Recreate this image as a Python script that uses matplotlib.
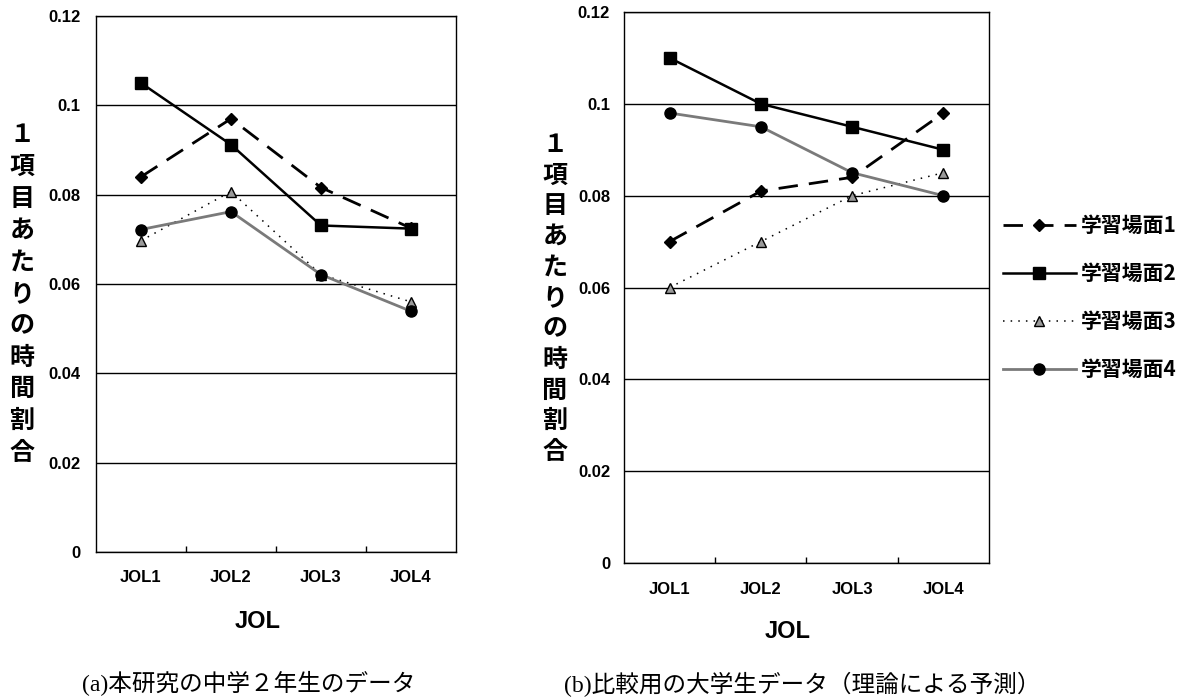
import matplotlib
matplotlib.use('Agg')
import matplotlib.pyplot as plt
import numpy as np

jol = ['JOL1', 'JOL2', 'JOL3', 'JOL4']
series_names = ['学習場面1', '学習場面2', '学習場面3', '学習場面4']
ytick_vals = [0, 0.02, 0.04, 0.06, 0.08, 0.1, 0.12]
ytick_labels = ['0', '0.02', '0.04', '0.06', '0.08', '0.1', '0.12']

# (a) middle school data
a1 = [0.084, 0.097, 0.0816, 0.0725]
a2 = [0.105, 0.0912, 0.0731, 0.0724]
a3 = [0.0697, 0.0807, 0.0621, 0.0560]
a4 = [0.0722, 0.0762, 0.0621, 0.0539]
# (b) university students (theory)
b1 = [0.070, 0.081, 0.084, 0.098]
b2 = [0.110, 0.100, 0.095, 0.090]
b3 = [0.060, 0.070, 0.080, 0.085]
b4 = [0.098, 0.095, 0.085, 0.080]

ylabel_text = '１項目あたりの時間割合'
caption_a = '(a)本研究の中学２年生のデータ'
caption_b = '(b)比較用の大学生データ（理論による予測）'

sans = ['Liberation Sans', 'Noto Sans CJK JP']
cjk = ['Noto Sans CJK JP', 'DejaVu Sans']
serif = ['Liberation Serif', 'Noto Sans CJK JP']

styles = [
    dict(color='black', lw=2.0, linestyle=(0, (7, 4)), marker='D', ms=6,
         mfc='black', mec='black'),
    dict(color='black', lw=1.8, linestyle='-', marker='s', ms=8.5,
         mfc='black', mec='black'),
    dict(color='black', lw=1.1, linestyle=(0, (1, 4)), marker='^', ms=7,
         mfc='#9a9a9a', mec='black', mew=1.0),
    dict(color='#7a7a7a', lw=2.0, linestyle='-', marker='o', ms=8,
         mfc='black', mec='black'),
]

W, H = 1184, 697
fig = plt.figure(figsize=(W / 100, H / 100), dpi=100)


def px_axes(x0, x1, y0, y1):
    return fig.add_axes([x0 / W, 1 - y1 / H, (x1 - x0) / W, (y1 - y0) / H])


def setup(ax, data, ypad, xpad):
    x = np.arange(len(jol))
    lines = []
    for vals, st, name in zip(data, styles, series_names):
        ln, = ax.plot(x, vals, label=name, zorder=3, **st)
        lines.append(ln)
    ax.set_xlim(-0.5, len(jol) - 0.5)
    ax.set_ylim(0, 0.12)
    ax.set_yticks(ytick_vals)
    ax.set_yticklabels(ytick_labels, family=sans, weight='bold', fontsize=12)
    ax.set_xticks(x)
    ax.set_xticklabels(jol, family=sans, weight='bold', fontsize=12)
    ax.set_xticks(x[:-1] + 0.5, minor=True)
    ax.tick_params(axis='y', length=0, pad=ypad)
    ax.tick_params(axis='x', which='major', length=0, pad=xpad)
    ax.tick_params(axis='x', which='minor', direction='in', length=4, width=1)
    ax.grid(axis='y', color='black', lw=1.0)
    ax.set_axisbelow(True)
    for sp in ax.spines.values():
        sp.set_linewidth(1.0)
        sp.set_color('black')
    return lines


axa = px_axes(96, 456, 16, 552)
setup(axa, [a1, a2, a3, a4], 11, 13)
axa.set_xlabel('JOL', family=sans, weight='bold', fontsize=17, va='center')
axa.xaxis.set_label_coords((258 - 96) / 360, -(622 - 552) / 536)

axb = px_axes(624, 989, 12, 563)
lines = setup(axb, [b1, b2, b3, b4], 10, 14)
axb.set_xlabel('JOL', family=sans, weight='bold', fontsize=17, va='center')
axb.xaxis.set_label_coords((788 - 624) / 365, -(632 - 563) / 551)

# vertical y labels, one character per row
for xc, ytop, ybot in [(22, 135, 453), (555, 145, 452)]:
    n = len(ylabel_text)
    for i, ch in enumerate(ylabel_text):
        yc = ytop + (ybot - ytop) * i / (n - 1)
        fig.text(xc / W, 1 - yc / H, ch, family=cjk, weight='bold',
                 fontsize=18, ha='center', va='center')

fig.legend(handles=lines, labels=series_names, loc='upper left',
           bbox_to_anchor=(1003 / W, 1 - 215 / H), frameon=False,
           prop=dict(family=cjk, weight='bold', size=15),
           handlelength=3.5, handletextpad=0.25, labelspacing=1.3,
           numpoints=1, borderpad=0, borderaxespad=0)

fig.text(249 / W, 1 - 684 / H, caption_a, family=serif, fontsize=17,
         ha='center', va='center')
fig.text(802 / W, 1 - 684 / H, caption_b, family=serif, fontsize=17,
         ha='center', va='center')

fig.savefig('out.png', dpi=100)
